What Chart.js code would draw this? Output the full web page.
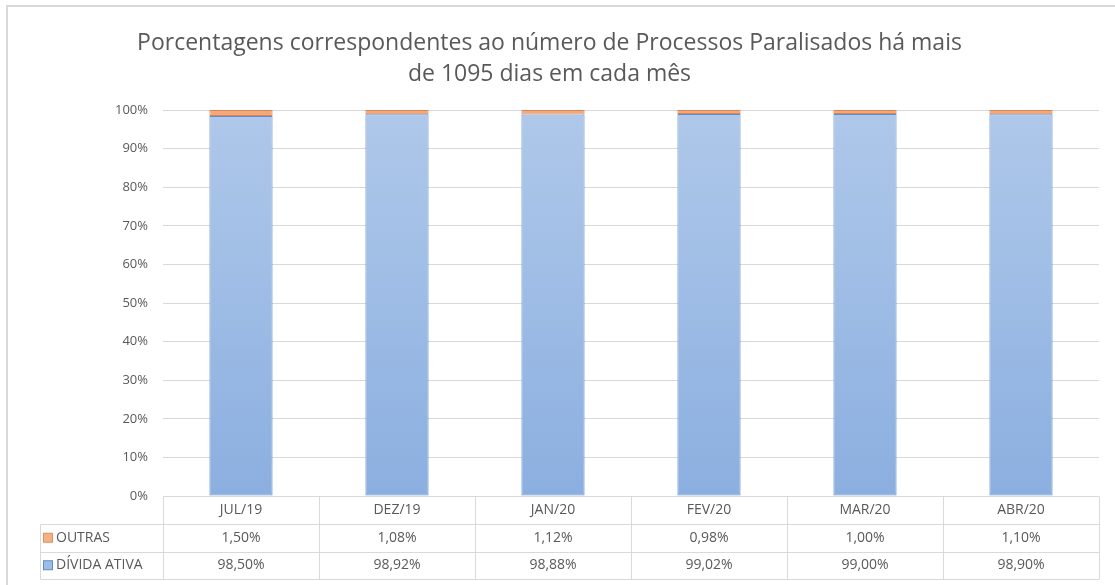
<!DOCTYPE html>
<html>
<head>
<meta charset="utf-8">
<script src="https://cdn.jsdelivr.net/npm/chart.js@4.4.1/dist/chart.umd.min.js"></script>
<style>
  html, body { margin: 0; padding: 0; background: #fff; }
  #wrap { position: relative; width: 1115px; height: 585px; }
</style>
</head>
<body>
<div id="wrap"><canvas id="chart" width="1115" height="585"></canvas></div>
<script>
const meses = ['JUL/19', 'DEZ/19', 'JAN/20', 'FEV/20', 'MAR/20', 'ABR/20'];
const dividaAtiva = [98.50, 98.92, 98.88, 99.02, 99.00, 98.90];
const outras = [1.50, 1.08, 1.12, 0.98, 1.00, 1.10];
const titulo = ['Porcentagens correspondentes ao número de Processos Paralisados há mais', 'de 1095 dias em cada mês'];

const fonte = "'Open Sans', 'Noto Sans', sans-serif";
const cinza = '#595959';

function fmt(v) {
  return v.toFixed(2).replace('.', ',') + '%';
}

function gradiente(c, top, bottom) {
  const area = c.chart.chartArea;
  if (!area) return top;
  const g = c.chart.ctx.createLinearGradient(0, area.top, 0, area.bottom);
  g.addColorStop(0, top);
  g.addColorStop(1, bottom);
  return g;
}

// moldura cinza do gráfico (só aparece em cima e à esquerda)
const moldura = {
  id: 'moldura',
  beforeDraw(chart) {
    const ctx = chart.ctx;
    ctx.save();
    ctx.strokeStyle = '#d9d9d9';
    ctx.lineWidth = 2;
    ctx.beginPath();
    ctx.moveTo(7, chart.height);
    ctx.lineTo(7, 6);
    ctx.lineTo(chart.width, 6);
    ctx.stroke();
    ctx.restore();
  }
};

// tabela de dados embaixo do gráfico
const tabela = {
  id: 'tabela',
  afterDraw(chart) {
    const ctx = chart.ctx;
    const area = chart.chartArea;
    const xs = chart.scales.x;
    const colW = (area.right - area.left) / meses.length;
    const rowH = 27.5;
    const top = Math.round(area.bottom) + 0.5;
    const legLeft = 40.5;
    const linhas = [
      { nome: 'OUTRAS', dados: outras, cor: '#f4b183', borda: '#e0915e' },
      { nome: 'DÍVIDA ATIVA', dados: dividaAtiva, cor: '#9dbce6', borda: '#5e8ccb' }
    ];

    ctx.save();
    ctx.strokeStyle = '#d9d9d9';
    ctx.lineWidth = 1;
    ctx.beginPath();
    // linhas horizontais
    for (let r = 1; r <= 3; r++) {
      const y = Math.round(top + r * rowH) + 0.5;
      ctx.moveTo(legLeft, y);
      ctx.lineTo(area.right, y);
    }
    // linhas verticais
    for (let i = 0; i <= meses.length; i++) {
      const x = Math.round(area.left + i * colW) + 0.5;
      ctx.moveTo(x, top);
      ctx.lineTo(x, Math.round(top + 3 * rowH) + 0.5);
    }
    ctx.moveTo(legLeft, Math.round(top + rowH) + 0.5);
    ctx.lineTo(legLeft, Math.round(top + 3 * rowH) + 0.5);
    ctx.stroke();

    ctx.fillStyle = cinza;
    ctx.font = '14px ' + fonte;
    ctx.textBaseline = 'middle';
    ctx.textAlign = 'center';
    meses.forEach((m, i) => {
      ctx.fillText(m, xs.getPixelForValue(i), top + rowH / 2);
    });
    linhas.forEach((l, r) => {
      const yc = top + rowH * (r + 1) + rowH / 2;
      ctx.fillStyle = l.cor;
      ctx.fillRect(43.5, yc - 4.5, 9, 9);
      ctx.strokeStyle = l.borda;
      ctx.strokeRect(43.5, yc - 4.5, 9, 9);
      ctx.fillStyle = cinza;
      ctx.textAlign = 'left';
      ctx.fillText(l.nome, 56, yc);
      ctx.textAlign = 'center';
      l.dados.forEach((v, i) => {
        ctx.fillText(fmt(v), xs.getPixelForValue(i), yc);
      });
    });
    ctx.restore();
  }
};

const ctx = document.getElementById('chart').getContext('2d');
const chart = new Chart(ctx, {
  type: 'bar',
  data: {
    labels: meses,
    datasets: [
      {
        label: 'DÍVIDA ATIVA',
        data: dividaAtiva,
        backgroundColor: c => gradiente(c, '#afc8ea', '#8bafe0'),
        borderColor: '#5f8dcb',
        borderWidth: 1,
        borderSkipped: false
      },
      {
        label: 'OUTRAS',
        data: outras,
        backgroundColor: '#f2a87f',
        borderColor: '#dc8452',
        borderWidth: 1,
        borderSkipped: false
      }
    ]
  },
  options: {
    responsive: false,
    animation: false,
    layout: { padding: { left: 0, right: 16, top: 0, bottom: 89 } },
    datasets: { bar: { categoryPercentage: 1, barPercentage: 0.405 } },
    plugins: {
      legend: { display: false },
      tooltip: { enabled: false },
      title: {
        display: true,
        text: titulo,
        color: cinza,
        font: { family: fonte, size: 23, weight: 'normal', lineHeight: 1.35 },
        padding: { top: 28, bottom: 20 }
      }
    },
    scales: {
      x: {
        stacked: true,
        display: false
      },
      y: {
        stacked: true,
        min: 0,
        max: 100,
        afterFit: s => { s.width = 163; },
        border: { display: false },
        grid: { color: '#d9d9d9', drawTicks: false },
        ticks: {
          stepSize: 10,
          padding: 15,
          color: cinza,
          font: { family: fonte, size: 13 },
          callback: v => v + '%'
        }
      }
    }
  },
  plugins: [moldura, tabela]
});
</script>
</body>
</html>
